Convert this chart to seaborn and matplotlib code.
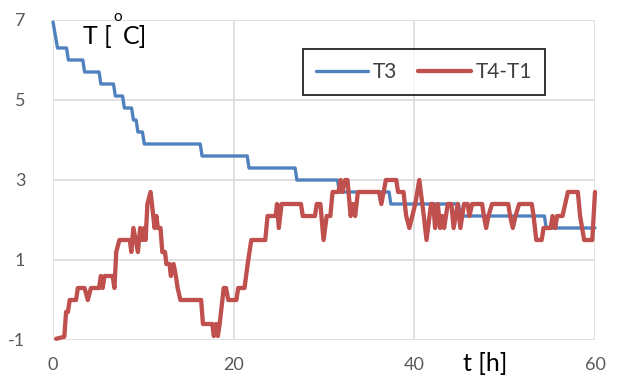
import numpy as np
import pandas as pd
import matplotlib
matplotlib.use("Agg")
import matplotlib.pyplot as plt
import seaborn as sns

# ---- data ----
t3_time = [0, 0.5, 1.5, 1.7, 3.3, 3.5, 5.1, 5.3, 6.7, 6.9, 7.7, 7.9, 8.7, 8.9, 9.2, 9.4,
           9.9, 10.1, 16.3, 16.5, 21.5, 21.7, 26.8, 27.0, 31.5, 31.7, 37.2, 37.4, 44.9,
           45.1, 54.4, 54.6, 60]
t3_vals = [6.95, 6.3, 6.3, 6.0, 6.0, 5.7, 5.7, 5.4, 5.4, 5.1, 5.1, 4.8, 4.8, 4.5, 4.5, 4.2,
           4.2, 3.9, 3.9, 3.6, 3.6, 3.3, 3.3, 3.0, 3.0, 2.7, 2.7, 2.4, 2.4, 2.1, 2.1, 1.8, 1.8]

dt_time = [0.35, 1.25, 1.45, 1.65, 1.85, 2.55, 2.75, 3.5, 3.85, 4.2, 5.1, 5.3, 5.5, 5.7,
           6.6, 6.8, 7.0, 7.35, 8.5, 8.67, 8.9, 9.4, 9.65, 9.9, 10.1, 10.25, 10.45, 10.8,
           11.25, 11.45, 11.6, 11.9, 12.1, 12.4, 12.55, 12.9, 13.05, 13.35, 13.6, 13.8,
           14.1, 16.4, 16.6, 17.65, 17.8, 18.05, 18.25, 18.45, 18.9, 19.15, 19.4, 20.3,
           20.5, 21.2, 21.55, 21.95, 23.5, 23.75, 24.65, 24.8, 25.0, 25.3, 27.45, 27.65,
           29.0, 29.2, 29.6, 29.95, 30.3, 30.7, 30.95, 31.6, 31.85, 32.05, 32.35, 32.6,
           32.95, 33.2, 33.45, 33.75, 36.1, 36.35, 36.6, 36.85, 38.0, 38.2, 38.8, 39.1,
           39.45, 40.1, 40.55, 41.05, 41.35, 41.85, 42.1, 42.3, 42.6, 42.85, 43.1, 43.3,
           43.7, 44.1, 44.35, 44.8, 45.1, 45.5, 45.9, 46.1, 46.4, 47.5, 47.7, 47.95, 48.2,
           48.6, 50.4, 50.6, 50.9, 51.2, 51.6, 53.0, 53.2, 53.5, 54.1, 54.3, 55.1, 55.3,
           55.6, 55.8, 56.4, 56.7, 57.0, 58.1, 58.35, 58.8, 59.7, 60.0]
dt_vals = [-0.97, -0.92, -0.3, -0.3, 0.0, 0.0, 0.3, 0.3, 0.0, 0.3, 0.3, 0.6, 0.3, 0.6,
           0.6, 0.3, 1.2, 1.5, 1.5, 1.2, 1.8, 1.2, 1.8, 1.5, 1.8, 1.5, 2.4, 2.7,
           1.8, 2.1, 1.8, 1.8, 1.2, 1.2, 0.9, 0.9, 0.6, 0.9, 0.6, 0.3,
           0.0, 0.0, -0.6, -0.6, -0.9, -0.6, -0.9, -0.6, 0.3, 0.3, 0.0, 0.0,
           0.3, 0.3, 0.9, 1.5, 1.5, 2.1, 2.1, 2.4, 1.8, 2.4, 2.4, 2.1,
           2.1, 2.4, 2.4, 1.5, 2.1, 2.1, 2.7, 2.7, 3.0, 2.7, 3.0, 3.0,
           2.1, 2.4, 2.1, 2.7, 2.7, 2.4, 2.7, 3.0, 3.0, 2.7, 2.7, 2.1,
           1.8, 2.4, 3.0, 2.1, 1.5, 2.4, 2.4, 1.8, 2.4, 1.8, 2.1, 1.8,
           2.4, 2.4, 1.8, 2.4, 1.8, 2.4, 2.4, 2.1, 2.4, 2.4, 2.1, 1.8, 2.1,
           2.4, 2.4, 2.1, 1.8, 2.1, 2.4, 2.4, 2.1, 1.5, 1.5, 1.8, 1.8, 2.1,
           1.8, 2.1, 2.1, 2.4, 2.7, 2.7, 2.1, 1.5, 1.5, 2.7]

series_names = ["T3", "T4-T1"]
colors = ["#4F81BD", "#C0504D"]
x_ticks = [0, 20, 40, 60]
y_ticks = [-1, 1, 3, 5, 7]

df = pd.concat([
    pd.DataFrame({"t": t3_time, "T": t3_vals, "series": series_names[0]}),
    pd.DataFrame({"t": dt_time, "T": dt_vals, "series": series_names[1]}),
], ignore_index=True)

sns.set_style("white")
plt.rcParams["font.family"] = ["Lato", "DejaVu Sans"]
plt.rcParams["axes.unicode_minus"] = False

fig = plt.figure(figsize=(6.22, 3.79), dpi=100)
ax = fig.add_axes([53 / 622, 39 / 379, 542 / 622, 320 / 379])

for name, col, lw in zip(series_names, colors, [2.4, 3.1]):
    sub = df[df["series"] == name]
    sns.lineplot(data=sub, x="t", y="T", color=col, lw=lw, ax=ax, label=name,
                 estimator=None, sort=False, clip_on=False, zorder=3)

ax.set_xlim(0, 60)
ax.set_ylim(-1, 7)
ax.set_xticks(x_ticks)
ax.set_yticks(y_ticks)
ax.grid(True, color="#d9d9d9", lw=1.1)
for s in ax.spines.values():
    s.set_visible(False)
ax.tick_params(length=0, labelsize=13, colors="#595959")
ax.tick_params(axis="y", pad=20)
ax.tick_params(axis="x", pad=12)
ax.set_xlabel("")
ax.set_ylabel("")

leg = ax.legend(loc="upper right", bbox_to_anchor=((545 - 53) / 542, 1 - 29 / 320),
                ncol=2, fontsize=15, frameon=True, fancybox=False, borderaxespad=0,
                handlelength=2.5, handletextpad=0.25, columnspacing=1.0,
                borderpad=0.62)
leg.get_frame().set_edgecolor("black")
leg.get_frame().set_linewidth(1.4)
for txt in leg.get_texts():
    txt.set_color("#404040")

fig.text(83 / 622, 1 - 44 / 379, "T [", fontsize=18, color="black", va="baseline")
fig.text(113 / 622, 1 - 21 / 379, "o", fontsize=11, color="black", va="baseline")
fig.text(123 / 622, 1 - 44 / 379, "C]", fontsize=18, color="black", va="baseline")
fig.text(463 / 622, 1 - 371 / 379, "t [h]", fontsize=18, color="black", va="baseline")

fig.savefig("out.png", dpi=100)
